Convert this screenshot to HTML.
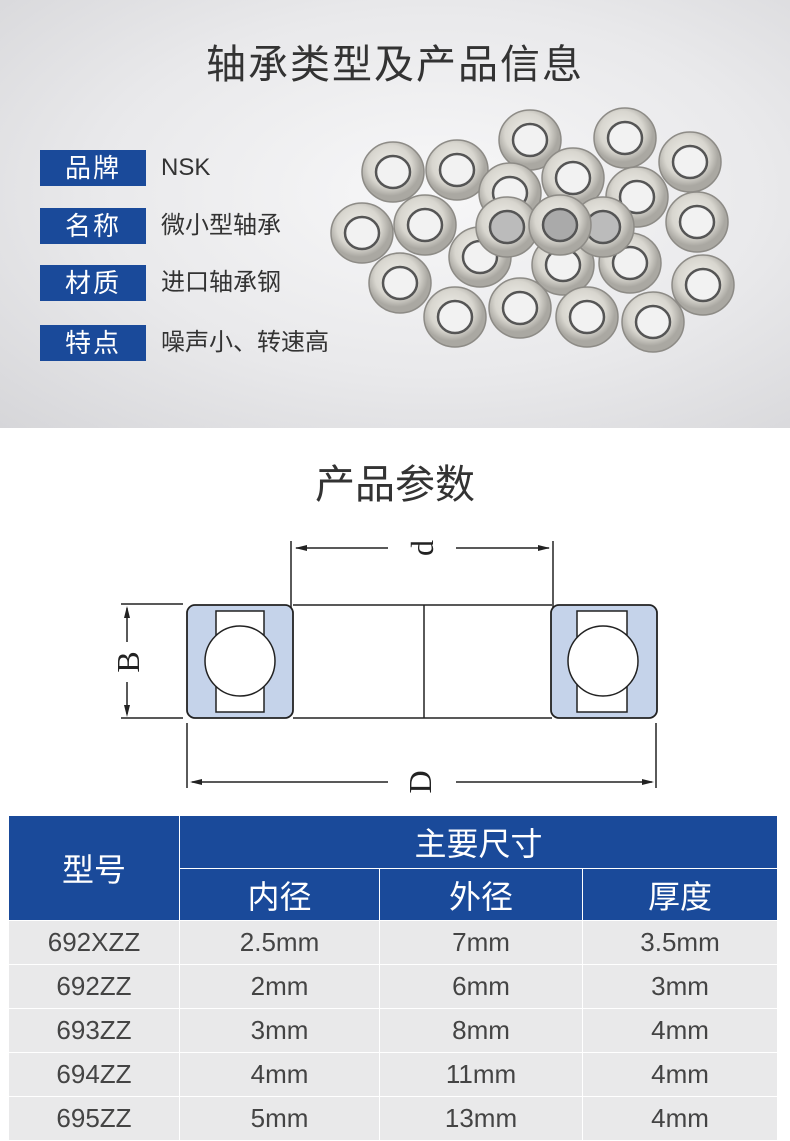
<!DOCTYPE html>
<html><head><meta charset="utf-8"><style>
body{margin:0;width:790px;height:1127px;overflow:hidden;background:#fff;font-family:"Liberation Sans","Noto Sans CJK SC",sans-serif;position:relative}
.top{position:absolute;left:0;top:0;width:790px;height:428px;background:radial-gradient(ellipse at 55% 45%,#f7f7f8 0%,#e9e9eb 55%,#d6d6d9 100%)}
.t1{position:absolute;top:32px;left:0;width:790px;text-align:center;font-size:40px;color:#333;letter-spacing:2px}
.lab{position:absolute;left:40px;width:106px;height:36px;background:#1a4a9a;color:#fff;font-size:26px;line-height:36px;text-align:center;letter-spacing:2px}
.val{position:absolute;left:161px;font-size:24px;color:#333;line-height:36px}
.t2{position:absolute;top:452px;left:0;width:790px;text-align:center;font-size:40px;color:#333}
table{position:absolute;left:8px;top:815px;border-collapse:collapse;width:770px}
td{text-align:center;padding:0;font-size:26px;color:#444}
.h{background:#1a4a9a;color:#fff;font-size:32px;border:1.5px solid #fff}
.r td{background:#e9e9ea;height:43px;border:1.5px solid #fff}
</style></head><body>
<div class="top"></div>
<div class="t1">轴承类型及产品信息</div>
<div class="lab" style="top:150px">品牌</div><div class="val" style="top:150px">NSK</div>
<div class="lab" style="top:208px">名称</div><div class="val" style="top:208px">微小型轴承</div>
<div class="lab" style="top:265px">材质</div><div class="val" style="top:265px">进口轴承钢</div>
<div class="lab" style="top:325px">特点</div><div class="val" style="top:325px">噪声小、转速高</div>
<svg style="position:absolute;left:0;top:0" width="790" height="428">
<defs><radialGradient id="g" cx="45%" cy="40%"><stop offset="0" stop-color="#efeee9"/><stop offset="0.7" stop-color="#d8d6cf"/><stop offset="1" stop-color="#aaa8a2"/></radialGradient></defs>
<g fill="url(#g)" stroke="#8d8b86" stroke-width="1.5">
<g transform="translate(530,140)"><ellipse rx="31" ry="30"/><ellipse rx="17" ry="16" fill="#f2f2f2" stroke="#555" stroke-width="2.5"/></g>
<g transform="translate(625,138)"><ellipse rx="31" ry="30"/><ellipse rx="17" ry="16" fill="#f2f2f2" stroke="#555" stroke-width="2.5"/></g>
<g transform="translate(690,162)"><ellipse rx="31" ry="30"/><ellipse rx="17" ry="16" fill="#f2f2f2" stroke="#555" stroke-width="2.5"/></g>
<g transform="translate(393,172)"><ellipse rx="31" ry="30"/><ellipse rx="17" ry="16" fill="#f2f2f2" stroke="#555" stroke-width="2.5"/></g>
<g transform="translate(457,170)"><ellipse rx="31" ry="30"/><ellipse rx="17" ry="16" fill="#f2f2f2" stroke="#555" stroke-width="2.5"/></g>
<g transform="translate(573,178)"><ellipse rx="31" ry="30"/><ellipse rx="17" ry="16" fill="#f2f2f2" stroke="#555" stroke-width="2.5"/></g>
<g transform="translate(510,193)"><ellipse rx="31" ry="30"/><ellipse rx="17" ry="16" fill="#f2f2f2" stroke="#555" stroke-width="2.5"/></g>
<g transform="translate(637,197)"><ellipse rx="31" ry="30"/><ellipse rx="17" ry="16" fill="#f2f2f2" stroke="#555" stroke-width="2.5"/></g>
<g transform="translate(697,222)"><ellipse rx="31" ry="30"/><ellipse rx="17" ry="16" fill="#f2f2f2" stroke="#555" stroke-width="2.5"/></g>
<g transform="translate(362,233)"><ellipse rx="31" ry="30"/><ellipse rx="17" ry="16" fill="#f2f2f2" stroke="#555" stroke-width="2.5"/></g>
<g transform="translate(425,225)"><ellipse rx="31" ry="30"/><ellipse rx="17" ry="16" fill="#f2f2f2" stroke="#555" stroke-width="2.5"/></g>
<g transform="translate(563,265)"><ellipse rx="31" ry="30"/><ellipse rx="17" ry="16" fill="#f2f2f2" stroke="#555" stroke-width="2.5"/></g>
<g transform="translate(630,263)"><ellipse rx="31" ry="30"/><ellipse rx="17" ry="16" fill="#f2f2f2" stroke="#555" stroke-width="2.5"/></g>
<g transform="translate(480,257)"><ellipse rx="31" ry="30"/><ellipse rx="17" ry="16" fill="#f2f2f2" stroke="#555" stroke-width="2.5"/></g>
<g transform="translate(603,227)"><ellipse rx="31" ry="30"/><ellipse rx="17" ry="16" fill="#bbb" stroke="#555" stroke-width="2.5"/></g>
<g transform="translate(507,227)"><ellipse rx="31" ry="30"/><ellipse rx="17" ry="16" fill="#bbb" stroke="#555" stroke-width="2.5"/></g>
<g transform="translate(560,225)"><ellipse rx="31" ry="30"/><ellipse rx="17" ry="16" fill="#aaa" stroke="#555" stroke-width="2.5"/></g>
<g transform="translate(400,283)"><ellipse rx="31" ry="30"/><ellipse rx="17" ry="16" fill="#f2f2f2" stroke="#555" stroke-width="2.5"/></g>
<g transform="translate(703,285)"><ellipse rx="31" ry="30"/><ellipse rx="17" ry="16" fill="#f2f2f2" stroke="#555" stroke-width="2.5"/></g>
<g transform="translate(520,308)"><ellipse rx="31" ry="30"/><ellipse rx="17" ry="16" fill="#f2f2f2" stroke="#555" stroke-width="2.5"/></g>
<g transform="translate(455,317)"><ellipse rx="31" ry="30"/><ellipse rx="17" ry="16" fill="#f2f2f2" stroke="#555" stroke-width="2.5"/></g>
<g transform="translate(587,317)"><ellipse rx="31" ry="30"/><ellipse rx="17" ry="16" fill="#f2f2f2" stroke="#555" stroke-width="2.5"/></g>
<g transform="translate(653,322)"><ellipse rx="31" ry="30"/><ellipse rx="17" ry="16" fill="#f2f2f2" stroke="#555" stroke-width="2.5"/></g>
</g>
</svg>
<div class="t2">产品参数</div>
<svg style="position:absolute;left:0;top:530px" width="790" height="280">
<g stroke="#222" stroke-width="1.5" fill="none">
<line x1="291" y1="11" x2="291" y2="80"/><line x1="553" y1="11" x2="553" y2="80"/>
<line x1="296" y1="18" x2="388" y2="18"/><line x1="456" y1="18" x2="549" y2="18"/>
<line x1="121" y1="74" x2="183" y2="74"/><line x1="121" y1="188" x2="183" y2="188"/>
<line x1="127" y1="78" x2="127" y2="112"/><line x1="127" y1="152" x2="127" y2="184"/>
<line x1="187" y1="193" x2="187" y2="258"/><line x1="656" y1="193" x2="656" y2="258"/>
<line x1="192" y1="252" x2="388" y2="252"/><line x1="456" y1="252" x2="652" y2="252"/>
<line x1="293" y1="75" x2="552" y2="75"/><line x1="293" y1="188" x2="552" y2="188"/>
<line x1="424" y1="75" x2="424" y2="188"/>
</g>
<g fill="#222">
<polygon points="295,18 307,15 307,21"/><polygon points="550,18 538,15 538,21"/>
<polygon points="127,76 124,88 130,88"/><polygon points="127,187 124,175 130,175"/>
<polygon points="190,252 202,249 202,255"/><polygon points="654,252 642,249 642,255"/>
</g>
<g stroke="#222" stroke-width="1.8" fill="#c5d3ea">
<rect x="187" y="75" width="106" height="113" rx="8"/><rect x="551" y="75" width="106" height="113" rx="8"/>
</g>
<g stroke="#222" stroke-width="1.5" fill="#fff">
<rect x="216" y="81" width="48" height="101"/><rect x="577" y="81" width="50" height="101"/>
<circle cx="240" cy="131" r="35"/><circle cx="603" cy="131" r="35"/>
</g>
<g font-family="Liberation Serif,serif" font-size="32" fill="#222">
<text x="0" y="0" transform="translate(422,18) rotate(-90)" text-anchor="middle" dominant-baseline="central">d</text>
<text x="0" y="0" transform="translate(128,132) rotate(-90)" text-anchor="middle" dominant-baseline="central">B</text>
<text x="0" y="0" transform="translate(420,252) rotate(-90)" text-anchor="middle" dominant-baseline="central">D</text>
</g>
</svg>
<table>
<tr><td class="h" rowspan="2" style="width:170px;height:103px">型号</td><td class="h" colspan="3" style="height:52px">主要尺寸</td></tr>
<tr><td class="h" style="width:199px;height:51px">内径</td><td class="h" style="width:202px">外径</td><td class="h">厚度</td></tr>
<tr class="r"><td>692XZZ</td><td>2.5mm</td><td>7mm</td><td>3.5mm</td></tr>
<tr class="r"><td>692ZZ</td><td>2mm</td><td>6mm</td><td>3mm</td></tr>
<tr class="r"><td>693ZZ</td><td>3mm</td><td>8mm</td><td>4mm</td></tr>
<tr class="r"><td>694ZZ</td><td>4mm</td><td>11mm</td><td>4mm</td></tr>
<tr class="r"><td>695ZZ</td><td>5mm</td><td>13mm</td><td>4mm</td></tr>
</table>
</body></html>
